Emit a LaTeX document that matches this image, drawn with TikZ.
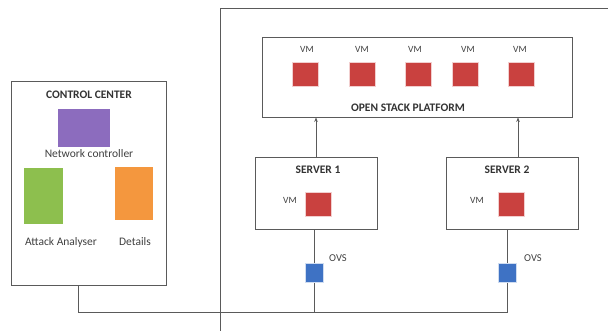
\documentclass[tikz,border=0pt]{standalone}
\usepackage{fontspec}
\setmainfont{Carlito}
\usetikzlibrary{arrows.meta,calc}
\definecolor{vmred}{HTML}{C9413F}
\definecolor{ovsblue}{HTML}{3E72C4}
\definecolor{ncpurple}{HTML}{8C6CBE}
\definecolor{aagreen}{HTML}{8DBF4E}
\definecolor{detorange}{HTML}{F4973E}
\definecolor{linegray}{HTML}{5A5A5A}
\tikzset{
  frame/.style={draw=linegray, line width=0.9pt, fill=white},
  vmbox/.style={fill=vmred, draw=vmred!25, line width=1pt, minimum width=26pt, minimum height=24pt, inner sep=0pt},
  ovsbox/.style={fill=ovsblue, draw=ovsblue!25, line width=1pt, minimum width=18pt, minimum height=19pt, inner sep=0pt},
  lbl/.style={font=\fontsize{11.5}{13}\selectfont, text=black!75, inner sep=0pt},
  vmlbl/.style={font=\fontsize{9.5}{11}\selectfont, text=black!75, inner sep=0pt},
  ovslbl/.style={font=\fontsize{10.5}{12}\selectfont, text=black!75, inner sep=0pt},
  title/.style={font=\bfseries\fontsize{11.5}{13}\selectfont, text=black!80, inner sep=0pt},
  wire/.style={draw=linegray, line width=0.9pt},
}
\begin{document}
\begin{tikzpicture}[x=1pt,y=-1pt]
\useasboundingbox (0,0) rectangle (608,331);
% outer frame (partially visible)
\draw[wire] (608,8) -- (220,8) -- (220,331);
% control center
\node[frame, minimum width=155pt, minimum height=204pt, inner sep=0pt] (cc) at (88.5,183) {};
\node[title] (cct) at (89,95) {CONTROL CENTER};
\node[fill=ncpurple, minimum width=52pt, minimum height=38pt, inner sep=0pt] (nc) at (84,128) {};
\node[lbl] (ncl) at (89,154) {Network controller};
\node[fill=aagreen, minimum width=39pt, minimum height=56pt, inner sep=0pt] (aa) at (43.5,196) {};
\node[fill=detorange, minimum width=38pt, minimum height=53pt, inner sep=0pt] (det) at (134,193.5) {};
\node[lbl] (aal) at (61,242) {Attack Analyser};
\node[lbl] (detl) at (135,242) {Details};
% open stack platform
\node[frame, minimum width=310pt, minimum height=80pt, inner sep=0pt] (osp) at (417,77) {};
\foreach \i/\x/\lx in {1/305/307,2/362/362,3/418/415,4/465/468,5/521/520}{
  \node[vmlbl] (vml\i) at (\lx,49) {VM};
  \node[vmbox] (vm\i) at (\x,74.5) {};
}
\node[title] (ospl) at (408,108) {OPEN STACK PLATFORM};
% servers
\node[frame, minimum width=122pt, minimum height=72pt, inner sep=0pt] (s1) at (316,193) {};
\node[title] (s1t) at (318,170) {SERVER 1};
\node[vmlbl] (s1vml) at (290,200) {VM};
\node[vmbox] (s1vm) at (318,204.5) {};
\node[frame, minimum width=132pt, minimum height=72pt, inner sep=0pt] (s2) at (512,193) {};
\node[title] (s2t) at (507,170) {SERVER 2};
\node[vmlbl] (s2vml) at (477,200) {VM};
\node[vmbox] (s2vm) at (511.5,204.5) {};
% OVS
\node[ovsbox] (ovs1) at (314,273.5) {};
\node[ovslbl] (ovs1l) at (338,258) {OVS};
\node[ovsbox] (ovs2) at (507,273.5) {};
\node[ovslbl] (ovs2l) at (533,258) {OVS};
% connectors
\draw[wire,-{Stealth[length=4.5pt,width=3.5pt]}] (s1.north) -- (s1.north |- osp.south);
\draw[wire,-{Stealth[length=4.5pt,width=3.5pt]}] ([xshift=6pt]s2.north) -- ([xshift=6pt]s2.north |- osp.south);
\draw[wire] (s1.south -| ovs1) -- (ovs1.north);
\draw[wire] (s2.south -| ovs2) -- (ovs2.north);
\coordinate (j) at (78,312);
\draw[wire] (cc.south -| j) -- (j) -- (j -| ovs2) -- (ovs2.south);
\draw[wire] (ovs1.south) -- (ovs1 |- j);
\end{tikzpicture}
\end{document}
